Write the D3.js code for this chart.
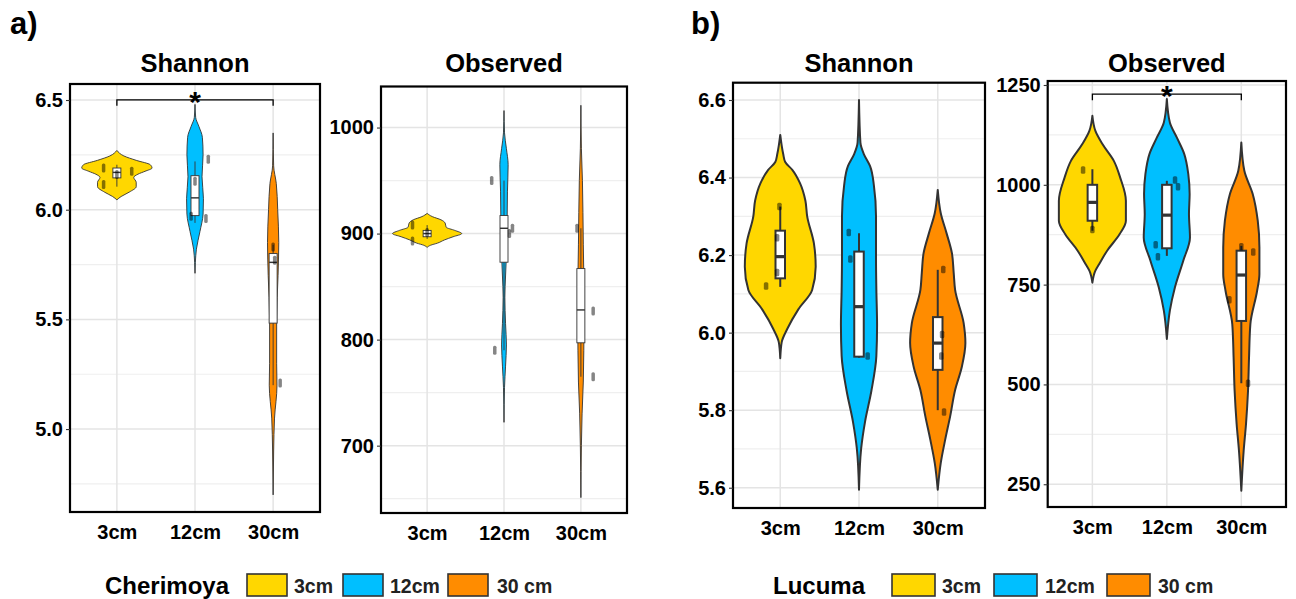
<!DOCTYPE html>
<html>
<head>
<meta charset="utf-8">
<script src="https://cdn.jsdelivr.net/npm/d3@7"></script>
<style>
  body { margin: 0; background: #fff; }
  svg { display: block; font-family: "Liberation Sans", Arial, sans-serif; }
</style>
</head>
<body>
<svg id="chart" width="1296" height="599"></svg>
<script>

// ---- data ----
const cats = ["3cm", "12cm", "30cm"];
const legendLabels = ["3cm", "12cm", "30 cm"];
const fills = ["#FFD700", "#00BFFF", "#FF8C00"];

// violin profiles: [value, relative half width]
// Cherimoya - Shannon
const aShannonViolins = [
  [[6.27,0],[6.245,.2],[6.225,.55],[6.205,.95],[6.19,1],[6.175,.8],[6.162,.6],[6.147,.48],[6.125,.55],[6.105,.55],[6.08,.35],[6.06,.12],[6.045,0]],
  [[6.48,0],[6.42,.02],[6.38,.11],[6.33,.21],[6.25,.23],[6.15,.2],[6.05,.24],[5.98,.23],[5.9,.14],[5.82,.04],[5.76,.01],[5.71,0]],
  [[6.35,0],[6.2,.015],[6.12,.09],[6.0,.13],[5.85,.16],[5.7,.14],[5.5,.1],[5.3,.1],[5.2,.11],[5.05,.04],[4.9,.015],[4.7,0]]
];
// box: [lower whisker, q1, median, q3, upper whisker]
const aShannonBoxes = [[6.105,6.145,6.17,6.19,6.205],[5.94,5.973,6.054,6.155,6.22],[5.2,5.483,5.76,5.80,5.84]];
// points: [category index, jitter, value]
const aShannonPoints = [[0,-.17,6.19],[0,.19,6.175],[0,-.17,6.115],[0,0,6.16],[1,.17,6.23],[1,.14,5.96],[1,0,6.13],[1,-.05,5.97],[2,.09,5.21],[2,0,5.83],[2,.02,5.77]];
const aShannonTicks = [5.0, 5.5, 6.0, 6.5];
const aShannonMinor = [4.75, 5.25, 5.75, 6.25];

// Cherimoya - Observed
const aObservedViolins = [
  [[919,0],[916,.15],[913,.4],[910,.52],[906,.55],[903,.8],[900,1],[897,.75],[894,.5],[891,.3],[889,.1],[887,0]],
  [[1016,0],[995,.015],[980,.07],[965,.12],[940,.1],[910,.09],[880,.07],[860,.045],[840,.025],[815,.045],[795,.07],[775,.045],[755,.015],[722,0]],
  [[1021,0],[980,.015],[950,.045],[920,.06],[890,.07],[860,.085],[820,.09],[790,.085],[760,.07],[730,.035],[700,.015],[651,0]]
];
const aObservedBoxes = [[895,897,900,903,908],[790,873,905,917,950],[765,797,828,867,905]];
const aObservedPoints = [[0,-.19,908],[0,-.19,893],[0,0,901],[1,-.16,950],[1,.11,905],[1,.07,900],[1,-.12,790],[2,-.05,905],[2,.16,827],[2,.16,765]];
const aObservedTicks = [700, 800, 900, 1000];
const aObservedMinor = [650, 750, 850, 950];

// Lucuma - Shannon
const bShannonViolins = [
  [[6.51,0],[6.46,.085],[6.44,.14],[6.42,.34],[6.385,.56],[6.34,.71],[6.30,.76],[6.23,.95],[6.17,1],[6.11,.9],[6.06,.51],[6.01,.2],[5.975,.04],[5.934,0]],
  [[6.60,0],[6.49,.04],[6.46,.14],[6.43,.31],[6.38,.42],[6.30,.48],[6.19,.48],[6.11,.49],[6.02,.51],[5.94,.49],[5.85,.35],[5.77,.17],[5.70,.06],[5.595,0]],
  [[6.368,0],[6.308,.085],[6.256,.25],[6.205,.4],[6.154,.45],[6.11,.49],[6.025,.73],[5.973,.78],[5.912,.68],[5.852,.49],[5.784,.35],[5.724,.21],[5.664,.085],[5.595,0]]
];
const bShannonBoxes = [[6.118,6.14,6.196,6.263,6.325],[5.935,5.938,6.067,6.209,6.256],[5.80,5.904,5.973,6.04,6.162]];
const bShannonPoints = [[0,-.18,6.12],[0,-.04,6.245],[0,-.04,6.155],[0,-.01,6.325],[1,-.13,6.258],[1,-.11,6.19],[1,.11,5.94],[2,.07,6.163],[2,.055,5.995],[2,.045,5.94],[2,.08,5.795]];
const bShannonTicks = [5.6, 5.8, 6.0, 6.2, 6.4, 6.6];
const bShannonMinor = [5.7, 5.9, 6.1, 6.3, 6.5];

// Lucuma - Observed
const bObservedViolins = [
  [[1173,0],[1135,.09],[1102,.3],[1060,.64],[1018,.83],[960,1],[910,1],[876,.81],[835,.44],[801,.2],[785,.09],[755,0]],
  [[1215,0],[1156,.09],[1118,.3],[1077,.52],[1027,.64],[977,.68],[927,.66],[868,.69],[810,.49],[743,.24],[685,.09],[614,0]],
  [[1106,0],[1035,.09],[977,.34],[910,.49],[843,.54],[776,.54],[734,.47],[651,.27],[567,.23],[484,.2],[401,.14],[334,.07],[234,0]]
];
const bObservedBoxes = [[885,910,956,1000,1039],[822,841,924,1000,1010],[503,659,774,835,847]];
const bObservedPoints = [[0,-.125,1037],[0,0,888],[1,-.15,850],[1,-.12,820],[1,.11,1012],[1,.15,995],[2,.16,832],[2,0,845],[2,-.16,712],[2,.09,503]];
const bObservedTicks = [250, 500, 750, 1000, 1250];
const bObservedMinor = [375, 625, 875, 1125];

// significance brackets: [from index, to index, value, label]
const aShannonBracket = [0, 2, 6.501, "*"];
const bObservedBracket = [0, 2, 1227, "*"];

// ---- drawing ----
const svg = d3.select("#chart");

function drawPanel(p) {
  const g = svg.append("g");
  const y = d3.scaleLinear().domain(p.domain).range([p.bottom, p.top]);
  const x = d3.scalePoint().domain(cats).range([p.left, p.right]).padding(0.6);
  const w = d3.scaleLinear().domain([0, 1]).range([0, x.step() * 0.45]);

  // grid
  g.selectAll(".minor").data(p.minor).join("line")
    .attr("x1", p.left).attr("x2", p.right)
    .attr("y1", d => y(d)).attr("y2", d => y(d))
    .attr("stroke", "#efefef").attr("stroke-width", 1.2);
  g.selectAll(".major").data(p.ticks).join("line")
    .attr("x1", p.left).attr("x2", p.right)
    .attr("y1", d => y(d)).attr("y2", d => y(d))
    .attr("stroke", "#e4e4e4").attr("stroke-width", 1.5);
  g.selectAll(".vgrid").data(cats).join("line")
    .attr("x1", d => x(d)).attr("x2", d => x(d))
    .attr("y1", p.top).attr("y2", p.bottom)
    .attr("stroke", "#e4e4e4").attr("stroke-width", 1.5);

  // violins
  p.violins.forEach((prof, i) => {
    const cx = x(cats[i]);
    const area = d3.area()
      .curve(d3.curveMonotoneY)
      .y(d => y(d[0]))
      .x0(d => cx - w(d[1]))
      .x1(d => cx + w(d[1]));
    g.append("path")
      .attr("d", area(prof))
      .attr("fill", fills[i])
      .attr("stroke", "#333")
      .attr("stroke-width", p.lineW)
      .attr("stroke-linejoin", "round");
  });

  // boxes
  p.boxes.forEach((b, i) => {
    const cx = x(cats[i]);
    g.append("line")
      .attr("x1", cx).attr("x2", cx)
      .attr("y1", y(b[0])).attr("y2", y(b[4]))
      .attr("stroke", "#333").attr("stroke-width", p.lineW);
    g.append("rect")
      .attr("x", cx - p.boxW / 2).attr("width", p.boxW)
      .attr("y", y(b[3])).attr("height", y(b[1]) - y(b[3]))
      .attr("fill", "#fff").attr("stroke", "#333").attr("stroke-width", p.lineW);
    g.append("line")
      .attr("x1", cx - p.boxW / 2).attr("x2", cx + p.boxW / 2)
      .attr("y1", y(b[2])).attr("y2", y(b[2]))
      .attr("stroke", "#333").attr("stroke-width", p.lineW * 1.6);
  });

  // jittered points
  g.selectAll(".pt").data(p.points).join("rect")
    .attr("x", d => x(cats[d[0]]) + d[1] * x.step() - p.ptW / 2)
    .attr("y", d => y(d[2]) - p.ptH / 2)
    .attr("width", p.ptW).attr("height", p.ptH)
    .attr("rx", 1.5)
    .attr("fill", "#000").attr("fill-opacity", 0.48);

  // frame
  g.append("rect")
    .attr("x", p.left).attr("y", p.top)
    .attr("width", p.right - p.left).attr("height", p.bottom - p.top)
    .attr("fill", "none").attr("stroke", "#000").attr("stroke-width", 2.2);

  // axes
  const yAxis = g.append("g")
    .attr("transform", `translate(${p.left},0)`)
    .call(d3.axisLeft(y).tickValues(p.ticks).tickFormat(p.fmt).tickSize(4).tickPadding(3));
  const xAxis = g.append("g")
    .attr("transform", `translate(0,${p.bottom})`)
    .call(d3.axisBottom(x).tickSize(0).tickPadding(13));
  [yAxis, xAxis].forEach(a => {
    a.select(".domain").remove();
    a.selectAll(".tick line").attr("stroke", "#333").attr("stroke-width", 1.1);
    a.selectAll("text")
      .attr("font-family", "Liberation Sans, Arial, sans-serif")
      .attr("font-size", 20).attr("font-weight", "bold").attr("fill", "#000");
  });

  // title
  g.append("text")
    .attr("x", (p.left + p.right) / 2).attr("y", 72)
    .attr("text-anchor", "middle")
    .attr("font-size", 25.5).attr("font-weight", "bold")
    .text(p.title);

  // bracket
  if (p.bracket) {
    const [i0, i1, v, lab] = p.bracket;
    const by = y(v);
    g.append("path")
      .attr("d", `M${x(cats[i0])},${by + 6}V${by}H${x(cats[i1])}V${by + 6}`)
      .attr("fill", "none").attr("stroke", "#000").attr("stroke-width", 1.3);
    g.append("text")
      .attr("x", (x(cats[i0]) + x(cats[i1])) / 2).attr("y", by + 12)
      .attr("text-anchor", "middle")
      .attr("font-size", 30).attr("font-weight", "bold")
      .text(lab);
  }
}

const fmt1 = d3.format(".1f");
const fmt0 = d3.format("d");

drawPanel({ title: "Shannon", left: 70, right: 320, top: 84, bottom: 512, domain: [4.622, 6.573],
  ticks: aShannonTicks, minor: aShannonMinor, fmt: fmt1, violins: aShannonViolins, boxes: aShannonBoxes,
  points: aShannonPoints, bracket: aShannonBracket, lineW: 0.9, boxW: 8, ptW: 3.5, ptH: 9 });
drawPanel({ title: "Observed", left: 381, right: 627, top: 86.5, bottom: 513, domain: [636.5, 1038.7],
  ticks: aObservedTicks, minor: aObservedMinor, fmt: fmt0, violins: aObservedViolins, boxes: aObservedBoxes,
  points: aObservedPoints, bracket: null, lineW: 0.9, boxW: 8, ptW: 3.5, ptH: 9 });
drawPanel({ title: "Shannon", left: 733, right: 985, top: 82.7, bottom: 508, domain: [5.5477, 6.6446],
  ticks: bShannonTicks, minor: bShannonMinor, fmt: fmt1, violins: bShannonViolins, boxes: bShannonBoxes,
  points: bShannonPoints, bracket: null, lineW: 2, boxW: 9.5, ptW: 4.5, ptH: 7.5 });
drawPanel({ title: "Observed", left: 1047.7, right: 1286, top: 81, bottom: 507, domain: [193, 1260],
  ticks: bObservedTicks, minor: bObservedMinor, fmt: fmt0, violins: bObservedViolins, boxes: bObservedBoxes,
  points: bObservedPoints, bracket: bObservedBracket, lineW: 2, boxW: 9.5, ptW: 4.5, ptH: 7.5 });

// panel letters
svg.append("text").attr("x", 10).attr("y", 34).attr("font-size", 31).attr("font-weight", "bold").text("a)");
svg.append("text").attr("x", 691).attr("y", 34).attr("font-size", 31).attr("font-weight", "bold").text("b)");

// legends
function drawLegend(title, tx, keyX, keyW, labelX) {
  const g = svg.append("g");
  g.append("text").attr("x", tx).attr("y", 594)
    .attr("font-size", 24).attr("font-weight", "bold").text(title);
  g.selectAll("rect").data(legendLabels).join("rect")
    .attr("x", (d, i) => keyX[i]).attr("y", 574)
    .attr("width", keyW).attr("height", 22)
    .attr("fill", (d, i) => fills[i])
    .attr("stroke", "#333").attr("stroke-width", 1.6);
  g.selectAll(".lab").data(legendLabels).join("text")
    .attr("x", (d, i) => labelX[i]).attr("y", 593)
    .attr("font-size", 19.5).attr("font-weight", "bold").attr("fill", "#222")
    .text(d => d);
}
drawLegend("Cherimoya", 105, [247, 343, 448], 40, [294, 390, 497]);
drawLegend("Lucuma", 773, [892, 994, 1107], 43, [942, 1045, 1158]);

</script>
</body>
</html>
